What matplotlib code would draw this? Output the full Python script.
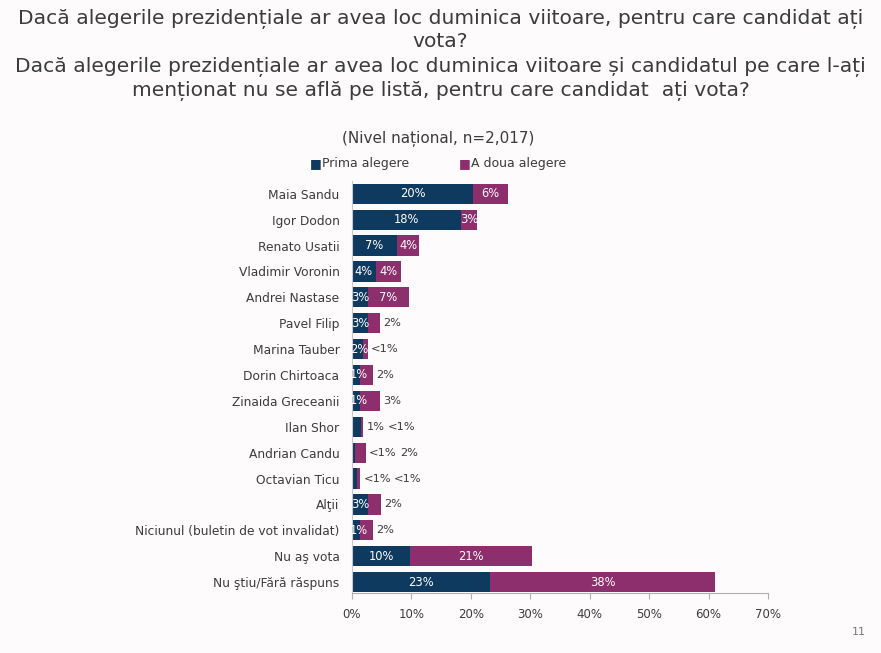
import numpy as np
import matplotlib
matplotlib.use("Agg")
import matplotlib.pyplot as plt
from matplotlib.ticker import FuncFormatter
from matplotlib.transforms import offset_copy

# data (percent)
candidates = [
    "Maia Sandu", "Igor Dodon", "Renato Usatii", "Vladimir Voronin",
    "Andrei Nastase", "Pavel Filip", "Marina Tauber", "Dorin Chirtoaca",
    "Zinaida Greceanii", "Ilan Shor", "Andrian Candu", "Octavian Ticu",
    "Alţii", "Niciunul (buletin de vot invalidat)", "Nu aş vota",
    "Nu ştiu/Fără răspuns",
]
first_choice = [20.4, 18.3, 7.6, 4.0, 2.7, 2.7, 1.9, 1.3, 1.3, 1.5, 0.5, 0.9,
                2.7, 1.3, 9.8, 23.2]
second_choice = [5.9, 2.7, 3.7, 4.2, 6.9, 2.0, 0.8, 2.3, 3.4, 0.4, 1.9, 0.5,
                 2.2, 2.2, 20.5, 37.9]
first_labels = ["20%", "18%", "7%", "4%", "3%", "3%", "2%", "1%", "1%", "1%",
                "<1%", "<1%", "3%", "1%", "10%", "23%"]
second_labels = ["6%", "3%", "4%", "4%", "7%", "2%", "<1%", "2%", "3%", "<1%",
                 "2%", "<1%", "2%", "2%", "21%", "38%"]
# whether each label sits inside its segment (as on the slide)
first_inside = [True] * 9 + [False, False, False] + [True] * 4
second_inside = [True] * 5 + [False] * 9 + [True, True]
x_ticks = [0, 10, 20, 30, 40, 50, 60, 70]

NAVY = "#0f3a5f"
PLUM = "#8d2e6d"
TXT = "#3c3c3c"
BG = "#fdfbfc"

plt.rcParams["font.family"] = ["DejaVu Sans"]

fig = plt.figure(figsize=(8.81, 6.53), dpi=100, facecolor=BG)
ax = fig.add_axes([0.3995, 0.092, 0.4722, 0.631])
ax.set_facecolor(BG)

y = np.arange(len(candidates))
ax.barh(y, first_choice, height=0.78, color=NAVY)
ax.barh(y, second_choice, left=first_choice, height=0.78, color=PLUM)

ax.set_xlim(0, 70)
ax.set_ylim(15.42, -0.5)

# value labels
renderer = fig.canvas.get_renderer()
for i in range(len(candidates)):
    f, s = first_choice[i], second_choice[i]
    total = f + s
    if first_inside[i]:
        # very thin bars: keep the label from spilling left of the axis
        ax.text(max(f / 2, 1.2), i, first_labels[i], ha="center", va="center",
                color="white", fontsize=8.3)
        shift = 3
    else:
        t = ax.text(total, i, first_labels[i], ha="left", va="center", color=TXT,
                    fontsize=8.2, transform=offset_copy(ax.transData, fig=fig, x=3, y=0, units="dots"))
        shift = 3 + t.get_window_extent(renderer).width + 3
    if second_inside[i]:
        ax.text(f + s / 2, i, second_labels[i], ha="center", va="center",
                color="white", fontsize=8.3)
    else:
        ax.text(total, i, second_labels[i], ha="left", va="center", color=TXT,
                fontsize=8.2, transform=offset_copy(ax.transData, fig=fig, x=shift, y=0, units="dots"))

ax.set_xticks(x_ticks)
ax.xaxis.set_major_formatter(FuncFormatter(lambda v, _: f"{v:.0f}%"))
ax.set_yticks(y)
ax.set_yticklabels(candidates, fontsize=8.8, color=TXT)
ax.tick_params(axis="y", length=0, pad=9)
ax.tick_params(axis="x", length=4, color="#b0b0b0", labelsize=8.5,
               labelcolor=TXT, pad=7)
for side in ["top", "right"]:
    ax.spines[side].set_visible(False)
ax.spines["bottom"].set_color("#b0b0b0")
ax.spines["left"].set_color("#c8c8c8")

# titles
title_kw = dict(ha="center", va="center", fontsize=14.6, color=TXT)
fig.text(0.5, 0.971, "Dacă alegerile prezidențiale ar avea loc duminica viitoare, pentru care candidat ați", **title_kw)
fig.text(0.5, 0.936, "vota?", **title_kw)
fig.text(0.5, 0.897, "Dacă alegerile prezidențiale ar avea loc duminica viitoare și candidatul pe care l-ați", **title_kw)
fig.text(0.5, 0.861, "menționat nu se află pe listă, pentru care candidat  ați vota?", **title_kw)

fig.text(0.497, 0.787, "(Nivel național, n=2,017)", ha="center", va="center",
         fontsize=11, color=TXT)

# legend
fig.text(0.358, 0.750, "\u25a0", ha="center", va="center", fontsize=9, color=NAVY)
fig.text(0.366, 0.750, "Prima alegere", ha="left", va="center", fontsize=9, color=TXT)
fig.text(0.527, 0.750, "\u25a0", ha="center", va="center", fontsize=9, color=PLUM)
fig.text(0.535, 0.750, "A doua alegere", ha="left", va="center", fontsize=9, color=TXT)

fig.text(0.975, 0.032, "11", ha="center", va="center", fontsize=8, color="#777777")

fig.savefig("out.png", dpi=100, facecolor=BG)
